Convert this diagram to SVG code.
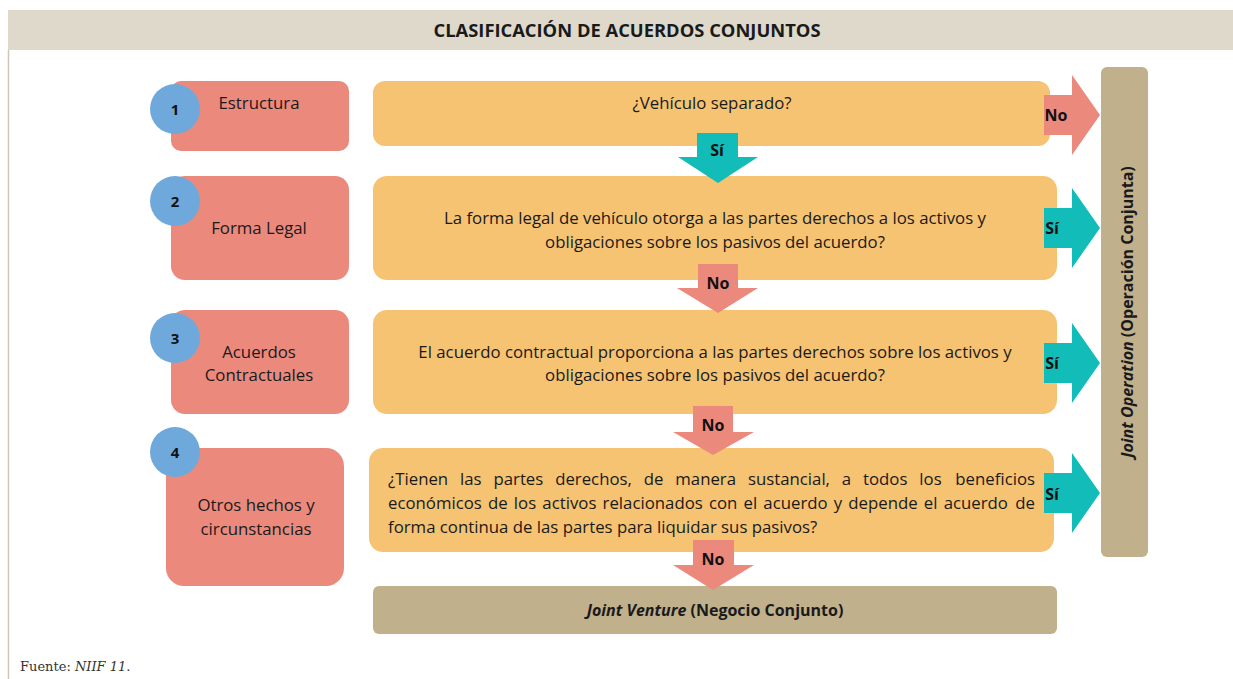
<svg xmlns="http://www.w3.org/2000/svg" width="1233" height="679" viewBox="0 0 1233 679">
<style>
.t{font-family:"Open Sans","Noto Sans",sans-serif;fill:#1a1a1a;font-size:16.8px}
.c{text-anchor:middle}
.b{font-weight:bold}
.w{fill:#ffffff}
.sal{fill:#ec897d}
.ora{fill:#f5c372}
.tea{fill:#12bcb8}
.tan{fill:#c1b08c}
.num{fill:#6fa9dc}
.lab{font-family:"Open Sans","Noto Sans",sans-serif;font-weight:bold;font-size:16px;text-anchor:middle;fill:#111}
</style>
<rect x="0" y="0" width="1233" height="679" fill="#ffffff"/>
<g id="header">
<rect x="8" y="10" width="1225" height="40" fill="#dfd9cc"/>
<text x="627" y="37" class="t c b" style="font-size:17px" textLength="387" lengthAdjust="spacingAndGlyphs">CLASIFICACIÓN DE ACUERDOS CONJUNTOS</text>
<line x1="8.5" y1="50" x2="8.5" y2="679" stroke="#cfc6b5" stroke-width="1.5"/>
</g>
<g id="q1">
<rect class="ora" x="373" y="81" width="677" height="65" rx="12"/>
<text x="712" y="109" class="t c">¿Vehículo separado?</text>
</g>
<g id="q2">
<rect class="ora" x="373" y="176" width="684" height="104" rx="14"/>
<text x="715" y="224" class="t c">La forma legal de vehículo otorga a las partes derechos a los activos y</text>
<text x="715" y="248" class="t c">obligaciones sobre los pasivos del acuerdo?</text>
</g>
<g id="q3">
<rect class="ora" x="373" y="310" width="684" height="104" rx="14"/>
<text x="715" y="358" class="t c">El acuerdo contractual proporciona a las partes derechos sobre los activos y</text>
<text x="715" y="381" class="t c">obligaciones sobre los pasivos del acuerdo?</text>
</g>
<g id="q4">
<rect class="ora" x="369" y="448" width="685" height="104" rx="14"/>
<text y="485" class="t" word-spacing="7.5"><tspan x="388">¿Tienen las partes derechos, de manera sustancial, a todos los</tspan><tspan x="1035" text-anchor="end">beneficios</tspan></text>
<text y="509" class="t" word-spacing="1.8"><tspan x="388">económicos de los activos relacionados con el acuerdo y depende el acuerdo</tspan><tspan x="1035" text-anchor="end">de</tspan></text>
<text x="388" y="533" class="t">forma continua de las partes para liquidar sus pasivos?</text>
</g>
<g id="s1">
<rect class="sal" x="171" y="81" width="178" height="70" rx="10"/>
<circle class="num" cx="175" cy="109" r="25"/>
<text x="175" y="115" class="lab" style="font-size:15px">1</text>
<text x="259" y="109" class="t c">Estructura</text>
</g>
<g id="s2">
<rect class="sal" x="171" y="176" width="178" height="104" rx="14"/>
<circle class="num" cx="175" cy="201" r="25"/>
<text x="175" y="207" class="lab" style="font-size:15px">2</text>
<text x="259" y="234" class="t c">Forma Legal</text>
</g>
<g id="s3">
<rect class="sal" x="171" y="310" width="178" height="104" rx="14"/>
<circle class="num" cx="175" cy="338" r="25"/>
<text x="175" y="344" class="lab" style="font-size:15px">3</text>
<text x="259" y="358" class="t c">Acuerdos</text>
<text x="259" y="381" class="t c">Contractuales</text>
</g>
<g id="s4">
<rect class="sal" x="166" y="448" width="178" height="138" rx="18"/>
<circle class="num" cx="175" cy="452" r="25"/>
<text x="175" y="458" class="lab" style="font-size:15px">4</text>
<text x="256" y="511" class="t c">Otros hechos y</text>
<text x="256" y="535" class="t c">circunstancias</text>
</g>
<g id="jv">
<rect class="tan" x="373" y="586" width="684" height="48" rx="6"/>
<text x="715" y="616" class="t c b" style="font-size:16px"><tspan font-style="italic">Joint Venture</tspan> (Negocio Conjunto)</text>
</g>
<g id="jo">
<rect class="tan" x="1101" y="67" width="47" height="490" rx="6"/>
<text transform="translate(1133,312) rotate(-90)" x="0" y="0" class="t c b" style="font-size:16px"><tspan font-style="italic">Joint Operation</tspan> (Operación Conjunta)</text>
</g>
<g id="connectors">
<polygon class="sal" points="1044,95 1072,95 1072,75 1100,115 1072,155 1072,135 1044,135"/>
<text x="1056" y="121" class="lab">No</text>
<polygon class="tea" points="1044,208 1072,208 1072,188 1100,228 1072,268 1072,248 1044,248"/>
<text x="1052" y="234" class="lab w">Sí</text>
<polygon class="tea" points="1044,343 1072,343 1072,323 1100,363 1072,403 1072,383 1044,383"/>
<text x="1052" y="369" class="lab w">Sí</text>
<polygon class="tea" points="1044,473 1072,473 1072,453 1100,493 1072,533 1072,513 1044,513"/>
<text x="1052" y="500" class="lab w">Sí</text>
<polygon class="tea" points="697,133 738,133 738,157 758,157 718,183 678,157 697,157"/>
<text x="717" y="156" class="lab w">Sí</text>
<polygon class="sal" points="698,264 738,264 738,288 758,288 718,313 677,288 698,288"/>
<text x="718" y="289" class="lab">No</text>
<polygon class="sal" points="693,406 733,406 733,432 754,432 713,455 673,432 693,432"/>
<text x="713" y="431" class="lab">No</text>
<polygon class="sal" points="693,540 734,540 734,565 754,565 713,590 673,565 693,565"/>
<text x="713" y="565" class="lab">No</text>
</g>
<g id="footer">
<text x="20" y="671" style="font-family:'DejaVu Serif','Liberation Serif',serif;font-size:13px;fill:#333">Fuente: <tspan font-style="italic">NIIF 11</tspan>.</text>
</g>
</svg>
